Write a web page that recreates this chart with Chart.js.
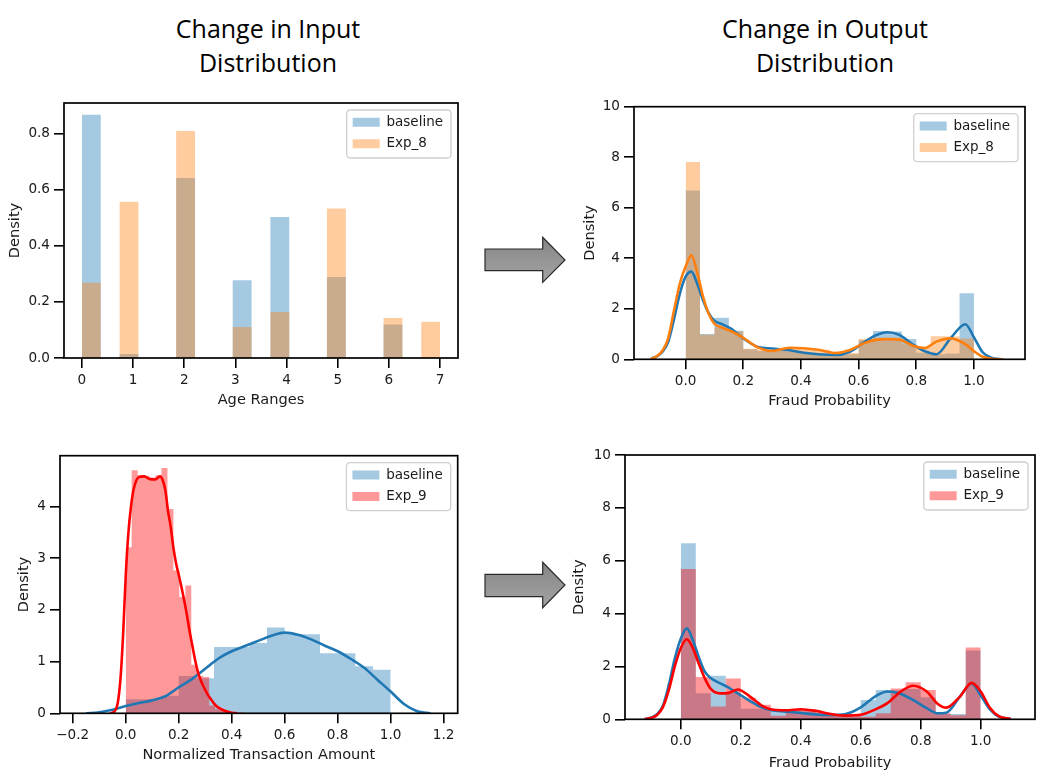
<!DOCTYPE html>
<html>
<head>
<meta charset="utf-8">
<title>Change in Input / Output Distribution</title>
<script src="https://cdn.jsdelivr.net/npm/chart.js@4.4.1/dist/chart.umd.min.js"></script>
<style>
  body { margin: 0; background: #fff; }
  #page { position: relative; width: 1043px; height: 781px; overflow: hidden; }
  .head { position: absolute; top: 11px; width: 300px; text-align: center;
          font-family: "Open Sans", Lato, sans-serif; font-size: 25px; line-height: 34px; color: #000; }
  canvas { position: absolute; }
  svg { position: absolute; left: 0; top: 0; }
</style>
</head>
<body>
<div id="page">
  <div class="head" style="left:118px">Change in Input<br>Distribution</div>
  <div class="head" style="left:675px">Change in Output<br>Distribution</div>

  <svg width="1043" height="781">
    <defs>
      <linearGradient id="arrowFill" x1="0" y1="0" x2="0" y2="1">
        <stop offset="0" stop-color="#858585"/>
        <stop offset="1" stop-color="#a4a4a4"/>
      </linearGradient>
    </defs>
    <polygon points="485,249 542.7,249 542.7,237.3 565,260 542.7,282.3 542.7,270.7 485,270.7"
             fill="url(#arrowFill)" stroke="#2a2a2a" stroke-width="1.2"/>
    <polygon points="485,574.3 542.7,574.3 542.7,562.3 565,585 542.7,607.7 542.7,596.7 485,596.7"
             fill="url(#arrowFill)" stroke="#2a2a2a" stroke-width="1.2"/>
  </svg>

  <canvas id="ageChart" width="470" height="330" style="left:0;top:90px"></canvas>
  <canvas id="outChart8" width="470" height="330" style="left:570px;top:90px"></canvas>
  <canvas id="amountChart" width="470" height="340" style="left:0;top:440px"></canvas>
  <canvas id="outChart9" width="473" height="340" style="left:570px;top:440px"></canvas>
</div>

<script>
// ---- Age ranges (input, Exp_8) ----
const ageTicks = [0, 1, 2, 3, 4, 5, 6, 7];
const ageDensityTicks = [0, 0.2, 0.4, 0.6, 0.8];
const ageEdges = [0, 0.368, 0.737, 1.105, 1.474, 1.842, 2.211, 2.579, 2.947, 3.316,
                  3.684, 4.053, 4.421, 4.789, 5.158, 5.526, 5.895, 6.263, 6.632, 7.0];
const ageBaseline = [0.866, 0, 0.014, 0, 0, 0.641, 0, 0, 0.277, 0, 0.502, 0, 0, 0.288, 0, 0, 0.119, 0, 0];
const ageExp8 = [0.268, 0, 0.556, 0, 0, 0.808, 0, 0, 0.110, 0, 0.164, 0, 0, 0.532, 0, 0, 0.142, 0, 0.129];

// ---- Fraud probability (output) ----
const probTicks = [0, 0.2, 0.4, 0.6, 0.8, 1.0];
const probDensityTicks = [0, 2, 4, 6, 8, 10];
const probEdges = [0, 0.05, 0.1, 0.15, 0.2, 0.25, 0.3, 0.35, 0.4, 0.45, 0.5,
                   0.55, 0.6, 0.65, 0.7, 0.75, 0.8, 0.85, 0.9, 0.95, 1.0];

// Exp_8 panel
const outBaseline8 = [6.68, 1.0, 1.64, 1.13, 0.4, 0.33, 0.35, 0.3, 0.25, 0.2,
                      0.15, 0.2, 0.75, 1.12, 1.1, 0.8, 0.26, 0.2, 0.23, 2.61];
const outExp8 = [7.81, 0.97, 1.25, 1.1, 0.42, 0.38, 0.35, 0.45, 0.4, 0.38,
                 0.3, 0.25, 0.8, 0.85, 0.85, 0.6, 0.5, 0.91, 0.9, 0.82];
const kdeX8 = [-0.12, -0.1, -0.08, -0.06, -0.04, -0.02, 0, 0.02, 0.04, 0.06, 0.08, 0.1, 0.13, 0.16,
               0.2, 0.25, 0.3, 0.36, 0.41, 0.46, 0.52, 0.57, 0.62, 0.66, 0.7, 0.74, 0.79, 0.83,
               0.87, 0.92, 0.97, 1.0, 1.03, 1.06, 1.1];
const kdeBaseline8 = [0.02, 0.12, 0.3, 0.7, 1.6, 2.6, 3.27, 3.47, 3.0, 2.35, 1.83, 1.53, 1.37, 1.2,
                      0.83, 0.49, 0.43, 0.36, 0.26, 0.2, 0.17, 0.3, 0.68, 0.95, 1.07, 0.97, 0.57, 0.32,
                      0.2, 0.85, 1.39, 0.87, 0.28, 0.06, 0];
const kdeExp8 = [0.01, 0.12, 0.35, 0.85, 1.95, 3.0, 3.67, 4.12, 3.45, 2.5, 1.8, 1.4, 1.24, 1.1,
                 0.85, 0.47, 0.33, 0.46, 0.44, 0.38, 0.25, 0.37, 0.64, 0.77, 0.8, 0.78, 0.53, 0.45,
                 0.7, 0.83, 0.6, 0.32, 0.1, 0.02, 0];

// Exp_9 panel
const outBaseline9 = [6.66, 0.99, 1.65, 1.0, 0.4, 0.4, 0.33, 0.38, 0.3, 0.25,
                      0.2, 0.2, 0.73, 1.11, 1.1, 1.15, 0.83, 0.2, 0.2, 2.6];
const outExp9 = [5.69, 1.6, 0.48, 1.54, 0.82, 0.55, 0.13, 0.38, 0.38, 0.25,
                 0.2, 0.2, 0.1, 0.23, 1.17, 1.4, 1.11, 0.23, 0.15, 2.72];
const kdeX9 = [-0.12, -0.1, -0.08, -0.06, -0.04, -0.02, 0, 0.02, 0.04, 0.06, 0.08, 0.1, 0.13, 0.16,
               0.19, 0.23, 0.27, 0.3, 0.35, 0.4, 0.45, 0.5, 0.55, 0.6, 0.65, 0.69, 0.73, 0.775,
               0.82, 0.855, 0.885, 0.93, 0.97, 1.0, 1.03, 1.06, 1.1];
const kdeBaseline9 = [0.01, 0.06, 0.18, 0.5, 1.3, 2.3, 3.05, 3.44, 3.0, 2.35, 1.8, 1.56, 1.37, 1.2,
                      0.98, 0.7, 0.45, 0.35, 0.29, 0.24, 0.18, 0.16, 0.2, 0.45, 0.88, 1.05, 0.98, 0.73,
                      0.42, 0.23, 0.25, 0.85, 1.36, 0.9, 0.38, 0.1, 0.01];
const kdeExp9 = [0.01, 0.05, 0.15, 0.45, 1.1, 2.0, 2.7, 3.03, 2.7, 2.1, 1.55, 1.15, 0.98, 1.0,
                 1.13, 0.87, 0.52, 0.38, 0.34, 0.38, 0.32, 0.2, 0.14, 0.17, 0.38, 0.62, 1.02, 1.27,
                 1.05, 0.6, 0.44, 0.85, 1.38, 1.05, 0.45, 0.12, 0.01];

// ---- Normalized transaction amount (input, Exp_9) ----
const amountTicks = [-0.2, 0, 0.2, 0.4, 0.6, 0.8, 1.0, 1.2];
const amountDensityTicks = [0, 1, 2, 3, 4];
const amountEdges = [0, 0.0667, 0.1333, 0.2, 0.2667, 0.3333, 0.4, 0.4667, 0.5333,
                     0.6, 0.6667, 0.7333, 0.8, 0.8667, 0.9333, 1.0];
const amountBaseline = [0.27, 0.27, 0.34, 0.72, 0.68, 1.28, 1.28, 1.36, 1.66, 1.53, 1.53, 1.16, 1.16, 0.91, 0.84];
const amountExpEdges = [0, 0.0225, 0.045, 0.0675, 0.09, 0.1125, 0.135, 0.1575, 0.18, 0.2025, 0.225,
                        0.2475, 0.27, 0.2925, 0.315, 0.3375, 0.36, 0.3825, 0.405, 0.4275, 0.45];
const amountExp9 = [3.21, 4.70, 4.60, 4.59, 4.56, 4.60, 4.74, 3.95, 2.76, 2.25,
                    2.47, 0.94, 0.72, 0.70, 0.15, 0.08, 0.05, 0.03, 0.02, 0.02];
const amountKdeX = [-0.15, -0.1, -0.05, 0, 0.05, 0.1, 0.15, 0.2, 0.25, 0.3, 0.35, 0.4, 0.45, 0.5,
                    0.55, 0.6, 0.65, 0.7, 0.75, 0.8, 0.85, 0.9, 0.95, 1.0, 1.05, 1.1, 1.15];
const amountKdeBaseline = [0, 0.02, 0.07, 0.14, 0.2, 0.25, 0.33, 0.5, 0.66, 0.86, 1.06, 1.2, 1.3, 1.4,
                           1.5, 1.56, 1.52, 1.43, 1.31, 1.2, 1.05, 0.88, 0.65, 0.42, 0.18, 0.04, 0];
const amountKdeX9 = [-0.06, -0.05, -0.04, -0.03, -0.02, -0.01, 0, 0.01, 0.02, 0.03, 0.05, 0.07, 0.09,
                     0.11, 0.13, 0.14, 0.15, 0.16, 0.17, 0.18, 0.19, 0.2, 0.21, 0.22, 0.23, 0.24,
                     0.25, 0.26, 0.27, 0.28, 0.3, 0.32, 0.34, 0.36, 0.38, 0.4, 0.42];
const amountKdeExp9 = [0, 0.01, 0.05, 0.2, 0.65, 1.5, 2.65, 3.48, 4.0, 4.33, 4.57, 4.58, 4.53,
                       4.52, 4.58, 4.5, 4.3, 3.9, 3.6, 3.2, 2.9, 2.68, 2.45, 2.2, 1.93, 1.62,
                       1.35, 1.08, 0.85, 0.68, 0.45, 0.28, 0.15, 0.08, 0.04, 0.01, 0];

// ---- styles ----
const FAMILY = '"DejaVu Sans", sans-serif';
const TICK_FONT = { family: FAMILY, size: 13.6 };
const LABEL_FONT = { family: FAMILY, size: 14.6 };
const LEGEND_FONT = { family: FAMILY, size: 13.5 };
const INK = '#1a1a1a';
const BLUE = '#1f77b4', BLUE_FILL = 'rgba(31,119,180,0.4)';
const ORANGE = '#ff7f0e', ORANGE_FILL = 'rgba(255,127,14,0.4)';
const RED = '#ff0000', RED_FILL = 'rgba(255,0,0,0.4)';

function histPoints(edges, heights) {
    const pts = heights.map((h, i) => ({ x: edges[i], y: h }));
    pts.push({ x: edges[edges.length - 1], y: 0 });
    return pts;
}

function curvePoints(xs, ys) {
    return xs.map((x, i) => ({ x: x, y: ys[i] }));
}

// 'before': each point's height holds until the next edge
function histSet(label, edges, heights, fill, order) {
    return {
        label: label, data: histPoints(edges, heights), stepped: 'before',
        fill: 'origin', backgroundColor: fill, borderColor: 'rgba(0,0,0,0)',
        borderWidth: 0, pointRadius: 0, order: order
    };
}

function kdeSet(label, xs, ys, color, order) {
    return {
        label: label, data: curvePoints(xs, ys), fill: false, borderColor: color,
        backgroundColor: color, borderWidth: 2.6, pointRadius: 0,
        cubicInterpolationMode: 'monotone', order: order, inLegend: false
    };
}

function fmt1(v) { return v.toFixed(1).replace('-', '\u2212'); }
function fmt0(v) { return String(Math.round(v)); }

// box around the plot area (all four spines)
const framePlugin = {
    id: 'frame',
    afterDraw(chart) {
        const a = chart.chartArea, ctx = chart.ctx;
        ctx.save();
        ctx.strokeStyle = '#000';
        ctx.lineWidth = 1.7;
        ctx.strokeRect(a.left, a.top, a.right - a.left, a.bottom - a.top);
        ctx.restore();
    }
};

// move the legend into the upper right corner and give it a rounded frame
const insideLegend = {
    id: 'insideLegend',
    afterLayout(chart) {
        const lg = chart.legend;
        if (!lg || !lg.legendItems) return;
        const a = chart.chartArea, ctx = chart.ctx;
        ctx.save();
        ctx.font = LEGEND_FONT.size + 'px ' + FAMILY;
        const textW = Math.max(...lg.legendItems.map(it => ctx.measureText(it.text).width));
        ctx.restore();
        const w = 6 + 27 + LEGEND_FONT.size / 2 + textW + 8;
        const h = 48;
        const fx = a.right - 7 - w, fy = a.top + 7;
        chart.$legendFrame = { x: fx, y: fy, w: w, h: h };
        lg.left = fx + 6 - 8;
        lg.top = fy + 12.3 - LEGEND_FONT.size / 2 - 8;
        lg.width = w + 20;
        lg.height = h + 40;
        lg.right = lg.left + lg.width;
        lg.bottom = lg.top + lg.height;
    },
    beforeDraw(chart) {
        const f = chart.$legendFrame;
        if (!f) return;
        const ctx = chart.ctx, r = 4;
        ctx.save();
        ctx.beginPath();
        ctx.moveTo(f.x + r, f.y);
        ctx.lineTo(f.x + f.w - r, f.y);
        ctx.quadraticCurveTo(f.x + f.w, f.y, f.x + f.w, f.y + r);
        ctx.lineTo(f.x + f.w, f.y + f.h - r);
        ctx.quadraticCurveTo(f.x + f.w, f.y + f.h, f.x + f.w - r, f.y + f.h);
        ctx.lineTo(f.x + r, f.y + f.h);
        ctx.quadraticCurveTo(f.x, f.y + f.h, f.x, f.y + f.h - r);
        ctx.lineTo(f.x, f.y + r);
        ctx.quadraticCurveTo(f.x, f.y, f.x + r, f.y);
        ctx.closePath();
        ctx.fillStyle = 'rgba(255,255,255,0.8)';
        ctx.fill();
        ctx.strokeStyle = '#d0d0d0';
        ctx.lineWidth = 1.3;
        ctx.stroke();
        ctx.restore();
    }
};

function axis(p) {
    const grid = {
        display: true, drawOnChartArea: false, drawTicks: true, tickLength: 10,
        tickWidth: 1.6, tickColor: '#000', color: '#000', lineWidth: 1.6
    };
    return {
        type: 'linear', min: p.min, max: p.max,
        afterBuildTicks: s => { s.ticks = p.ticks.map(v => ({ value: v })); },
        afterFit: s => { if (p.width) s.width = p.width; if (p.height) s.height = p.height; },
        ticks: { callback: p.fmt, font: TICK_FONT, color: INK, padding: 4, maxRotation: 0, autoSkip: false },
        grid: grid,
        border: { display: false },
        title: { display: true, text: p.title, font: LABEL_FONT, color: INK, padding: p.titlePad }
    };
}

function panel(id, datasets, x, y, pad) {
    return new Chart(document.getElementById(id), {
        type: 'line',
        data: { datasets: datasets },
        options: {
            responsive: false,
            animation: false,
            events: [],
            layout: { padding: pad },
            scales: { x: x, y: y },
            plugins: {
                tooltip: { enabled: false },
                legend: {
                    position: 'chartArea',
                    align: 'start',
                    labels: {
                        font: LEGEND_FONT, color: INK, boxWidth: 27, boxHeight: 9, padding: 8,
                        filter: (item, data) => data.datasets[item.datasetIndex].inLegend !== false,
                        sort: (a, b) => a.datasetIndex - b.datasetIndex
                    }
                }
            }
        },
        plugins: [framePlugin, insideLegend]
    });
}

document.addEventListener('DOMContentLoaded', function () {
    Chart.defaults.font.family = FAMILY;

    // Age ranges
    panel('ageChart', [
        histSet('baseline', ageEdges, ageBaseline, BLUE_FILL, 4),
        histSet('Exp_8', ageEdges, ageExp8, ORANGE_FILL, 3)
    ],
    axis({ min: -0.35, max: 7.35, ticks: ageTicks, fmt: fmt0, title: 'Age Ranges',
           height: 62, titlePad: { top: 0, bottom: 11.3 } }),
    axis({ min: 0, max: 0.908, ticks: ageDensityTicks, fmt: fmt1, title: 'Density',
           width: 64, titlePad: { top: 6.8, bottom: 0 } }),
    { left: 0, top: 13, right: 12, bottom: 0 });

    // Output, Exp_8 (bars under both curves, as in matplotlib)
    panel('outChart8', [
        histSet('baseline', probEdges, outBaseline8, BLUE_FILL, 4),
        kdeSet('baseline kde', kdeX8, kdeBaseline8, BLUE, 2),
        histSet('Exp_8', probEdges, outExp8, ORANGE_FILL, 3),
        kdeSet('Exp_8 kde', kdeX8, kdeExp8, ORANGE, 1)
    ],
    axis({ min: -0.179, max: 1.177, ticks: probTicks, fmt: fmt1, title: 'Fraud Probability',
           height: 60.7, titlePad: { top: 0, bottom: 9.6 } }),
    axis({ min: 0, max: 10, ticks: probDensityTicks, fmt: fmt0, title: 'Density',
           width: 64, titlePad: { top: 11.3, bottom: 0 } }),
    { left: 0, top: 16.7, right: 15, bottom: 0 });

    // Transaction amount
    panel('amountChart', [
        histSet('baseline', amountEdges, amountBaseline, BLUE_FILL, 4),
        kdeSet('baseline kde', amountKdeX, amountKdeBaseline, BLUE, 2),
        histSet('Exp_9', amountExpEdges, amountExp9, RED_FILL, 3),
        kdeSet('Exp_9 kde', amountKdeX9, amountKdeExp9, RED, 1)
    ],
    axis({ min: -0.248, max: 1.253, ticks: amountTicks, fmt: fmt1, title: 'Normalized Transaction Amount',
           height: 66.7, titlePad: { top: 0, bottom: 16.3 } }),
    axis({ min: 0, max: 4.98, ticks: amountDensityTicks, fmt: fmt0, title: 'Density',
           width: 60, titlePad: { top: 15.3, bottom: 0 } }),
    { left: 0, top: 15.7, right: 12.3, bottom: 0 });

    // Output, Exp_9
    panel('outChart9', [
        histSet('baseline', probEdges, outBaseline9, BLUE_FILL, 4),
        kdeSet('baseline kde', kdeX9, kdeBaseline9, BLUE, 2),
        histSet('Exp_9', probEdges, outExp9, RED_FILL, 3),
        kdeSet('Exp_9 kde', kdeX9, kdeExp9, RED, 1)
    ],
    axis({ min: -0.186, max: 1.181, ticks: probTicks, fmt: fmt1, title: 'Fraud Probability',
           height: 60.7, titlePad: { top: 0, bottom: 8.3 } }),
    axis({ min: 0, max: 10, ticks: probDensityTicks, fmt: fmt0, title: 'Density',
           width: 55, titlePad: { top: 0.3, bottom: 0 } }),
    { left: 0, top: 15, right: 8, bottom: 0 });
});
</script>
</body>
</html>
